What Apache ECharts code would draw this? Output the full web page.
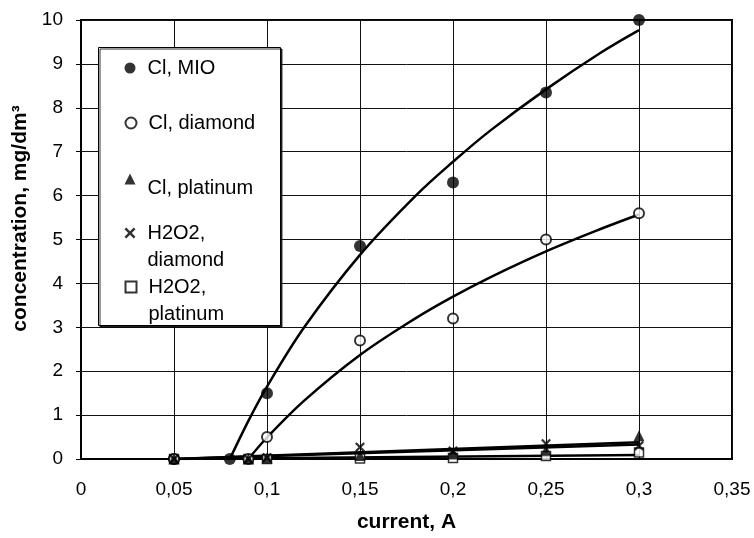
<!DOCTYPE html>
<html>
<head>
<meta charset="utf-8">
<script src="https://cdn.jsdelivr.net/npm/echarts@6/dist/echarts.min.js"></script>
<style>
html,body{margin:0;padding:0;background:#fff;}
#chart{width:754px;height:538px;}
</style>
</head>
<body>
<div id="chart"></div>
<script>
// ---- data ----
const xTickLabels = ['0', '0,05', '0,1', '0,15', '0,2', '0,25', '0,3', '0,35'];
const yTickLabels = ['0', '1', '2', '3', '4', '5', '6', '7', '8', '9', '10'];

const seriesNames = ['Cl, MIO', 'Cl, diamond', 'Cl, platinum', 'H2O2, diamond', 'H2O2, platinum'];

const clMioX = [0.05, 0.08, 0.1, 0.15, 0.2, 0.25, 0.3];
const clMioY = [0, 0, 1.5, 4.85, 6.3, 8.35, 10];

const clDiaX = [0.05, 0.09, 0.1, 0.15, 0.2, 0.25, 0.3];
const clDiaY = [0, 0, 0.5, 2.7, 3.2, 5.0, 5.6];

const clPtX = [0.05, 0.09, 0.1, 0.15, 0.2, 0.25, 0.3];
const clPtY = [0, 0, 0.02, 0.08, 0.12, 0.2, 0.53];

const h2o2DiaX = [0.05, 0.09, 0.1, 0.15, 0.2, 0.25, 0.3];
const h2o2DiaY = [0, 0, 0.03, 0.27, 0.18, 0.35, 0.3];

const h2o2PtX = [0.05, 0.09, 0.1, 0.15, 0.2, 0.25, 0.3];
const h2o2PtY = [0, 0, 0, 0.01, 0.02, 0.07, 0.15];

// trend curves
const mioTrendX = [0.08, 0.09, 0.1, 0.12, 0.15, 0.18, 0.2, 0.22, 0.25, 0.28, 0.3];
const mioTrendY = [0, 0.87, 1.65, 3.0, 4.65, 6.0, 6.77, 7.48, 8.42, 9.27, 9.77];

const diaTrendX = [0.09, 0.1, 0.12, 0.15, 0.18, 0.2, 0.22, 0.25, 0.28, 0.3];
const diaTrendY = [0, 0.49, 1.33, 2.37, 3.21, 3.70, 4.14, 4.73, 5.25, 5.57];

const clPtTrendX = [0.05, 0.3];
const clPtTrendY = [0, 0.38];

const h2o2DiaTrendX = [0.05, 0.3];
const h2o2DiaTrendY = [0, 0.33];

const h2o2PtTrendX = [0.05, 0.3];
const h2o2PtTrendY = [0, 0.09];

// ---- build chart ----
const FONT = "'Liberation Sans', Arial, sans-serif";
const zip = (xs, ys) => xs.map((x, i) => [x, ys[i]]);
const crossPath = 'path://M0,1.6 L1.6,0 L5,3.4 L8.4,0 L10,1.6 L6.6,5 L10,8.4 L8.4,10 L5,6.6 L1.6,10 L0,8.4 L3.4,5 Z';

function trend(xs, ys, smooth) {
  return {
    type: 'line', data: zip(xs, ys), showSymbol: false, symbol: 'none',
    smooth: smooth ? 0.35 : false,
    lineStyle: {color: '#000', width: 2.5}, silent: true, z: 2
  };
}
function marks(name, xs, ys, symbol, size, itemStyle, z) {
  return {
    type: 'scatter', name: name, data: zip(xs, ys), symbol: symbol, symbolSize: size,
    itemStyle: itemStyle, z: z
  };
}

function legendItem(name, text, top, lineHeight) {
  return {
    data: [name], left: 124.5, top: top, orient: 'vertical', padding: 0,
    itemWidth: 11, itemHeight: 11, selectedMode: false, z: 20,
    formatter: function () { return text; },
    textStyle: {fontFamily: FONT, fontSize: 20, color: '#000', lineHeight: lineHeight, padding: [0, 0, 0, 7]}
  };
}

const chart = echarts.init(document.getElementById('chart'), null, {renderer: 'canvas'});
chart.setOption({
  animation: false,
  backgroundColor: '#fff',
  grid: {left: 81, right: 22, top: 20, bottom: 78, show: true, borderColor: '#000', borderWidth: 2, backgroundColor: 'transparent'},
  xAxis: {
    type: 'value', min: 0, max: 0.35, interval: 0.05,
    name: 'current, A', nameLocation: 'middle', nameGap: 53,
    nameTextStyle: {fontFamily: FONT, fontSize: 21, fontWeight: 'bold', color: '#000'},
    axisLine: {show: true, lineStyle: {color: '#000', width: 2}},
    axisTick: {show: false},
    axisLabel: {fontFamily: FONT, fontSize: 19, color: '#000', margin: 21,
      formatter: function (v, i) { return xTickLabels[i]; }},
    splitLine: {show: true, lineStyle: {color: '#111', width: 1}}
  },
  yAxis: {
    type: 'value', min: 0, max: 10, interval: 1,
    name: 'concentration, mg/dm³', nameLocation: 'middle', nameGap: 45,
    nameTextStyle: {fontFamily: FONT, fontSize: 21, fontWeight: 'bold', color: '#000', padding: [0, 0, 0, 42]},
    axisLine: {show: true, lineStyle: {color: '#000', width: 2}},
    axisTick: {show: true, length: 5, lineStyle: {color: '#000', width: 1}},
    axisLabel: {fontFamily: FONT, fontSize: 19, color: '#000', margin: 18,
      formatter: function (v, i) { return yTickLabels[i]; }},
    splitLine: {show: true, lineStyle: {color: '#111', width: 1}}
  },
  graphic: [{
    type: 'rect', z: 10, left: 98, top: 47,
    shape: {width: 182, height: 278},
    style: {fill: '#fff', stroke: '#000', lineWidth: 1, shadowColor: 'rgba(0,0,0,0.8)', shadowOffsetX: 1.5, shadowOffsetY: 1.5, shadowBlur: 0}
  }],
  legend: [
    legendItem(seriesNames[0], 'Cl, MIO', 58, 20),
    legendItem(seriesNames[1], 'Cl, diamond', 113, 20),
    legendItem(seriesNames[2], '\nCl, platinum', 160, 18),
    legendItem(seriesNames[3], '\nH2O2,\ndiamond', 192.5, 27),
    legendItem(seriesNames[4], '\nH2O2,\nplatinum', 246.5, 27)
  ],
  series: [
    trend(mioTrendX, mioTrendY, true),
    trend(diaTrendX, diaTrendY, true),
    trend(clPtTrendX, clPtTrendY, false),
    trend(h2o2DiaTrendX, h2o2DiaTrendY, false),
    trend(h2o2PtTrendX, h2o2PtTrendY, false),
    marks(seriesNames[0], clMioX, clMioY, 'circle', 12, {color: '#000'}, 4),
    marks(seriesNames[1], clDiaX, clDiaY, 'circle', 10, {color: '#fff', borderColor: '#000', borderWidth: 2}, 4),
    marks(seriesNames[2], clPtX, clPtY, 'triangle', 11, {color: '#000'}, 5),
    marks(seriesNames[3], h2o2DiaX, h2o2DiaY, crossPath, 10, {color: '#000'}, 5),
    marks(seriesNames[4], h2o2PtX, h2o2PtY, 'rect', 9, {color: '#fff', borderColor: '#000', borderWidth: 1.5}, 3)
  ]
});
</script>
</body>
</html>
